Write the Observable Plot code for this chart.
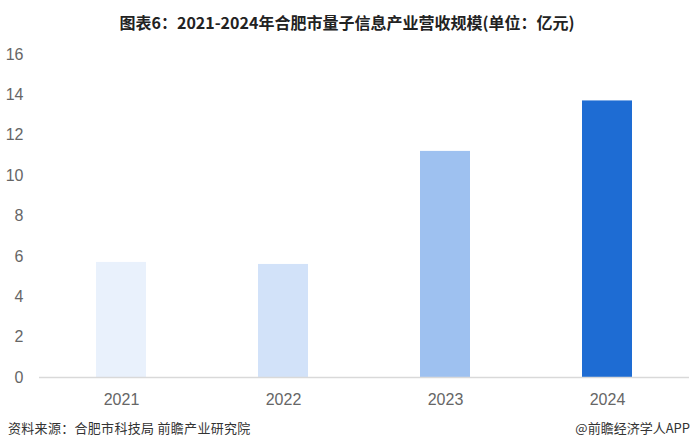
<!DOCTYPE html>
<html><head><meta charset="utf-8">
<script src="https://cdn.jsdelivr.net/npm/d3@7"></script>
<script src="https://cdn.jsdelivr.net/npm/@observablehq/plot@0.6"></script>
<style>
body{margin:0;width:694px;height:448px;background:#fff;overflow:hidden;font-family:"Noto Sans CJK SC",sans-serif;}
#title{height:44px;line-height:44px;text-align:center;font-size:16px;font-weight:bold;color:#222;}
#foot{position:relative;height:34px;font-size:13px;color:#333;}
#foot .l{position:absolute;left:8px;top:4px;letter-spacing:0.3px;}
#foot .r{position:absolute;right:4px;top:4px;}
</style></head>
<body>
<div id="title">图表6：2021-2024年合肥市量子信息产业营收规模(单位：亿元)</div>
<div id="chart"></div>
<div id="foot"><span class="l">资料来源：合肥市科技局 前瞻产业研究院</span><span class="r">@前瞻经济学人APP</span></div>
<script>
const years = ["2021","2022","2023","2024"];
const revenue = [5.7, 5.6, 11.2, 13.7];
const barColors = ["#E9F1FC","#D2E2F9","#9EC1F0","#1E6CD3"];
const yTicks = [0,2,4,6,8,10,12,14,16];

const data = years.map((y,i)=>({year:y, value:revenue[i], color:barColors[i]}));

const chart = Plot.plot({
  width: 694,
  height: 370,
  marginTop: 10,
  marginBottom: 37,
  marginLeft: 39,
  marginRight: 5,
  style: {fontFamily: "'Liberation Sans Narrow', 'Liberation Sans', sans-serif", fontSize: "16px", color: "#666", background: "#fff"},
  x: {domain: years, paddingInner: 0.69, paddingOuter: 0.345, label: null, tickSize: 0, tickPadding: 16},
  y: {domain: [0,16], ticks: yTicks, label: null, tickSize: 0, tickPadding: 16},
  marks: [
    Plot.barY(data, {x: "year", y: "value", fill: "color"}),
    Plot.ruleY([0], {stroke: "#d9d9d9", strokeWidth: 1.5})
  ]
});
document.getElementById("chart").appendChild(chart);
</script>
</body></html>
